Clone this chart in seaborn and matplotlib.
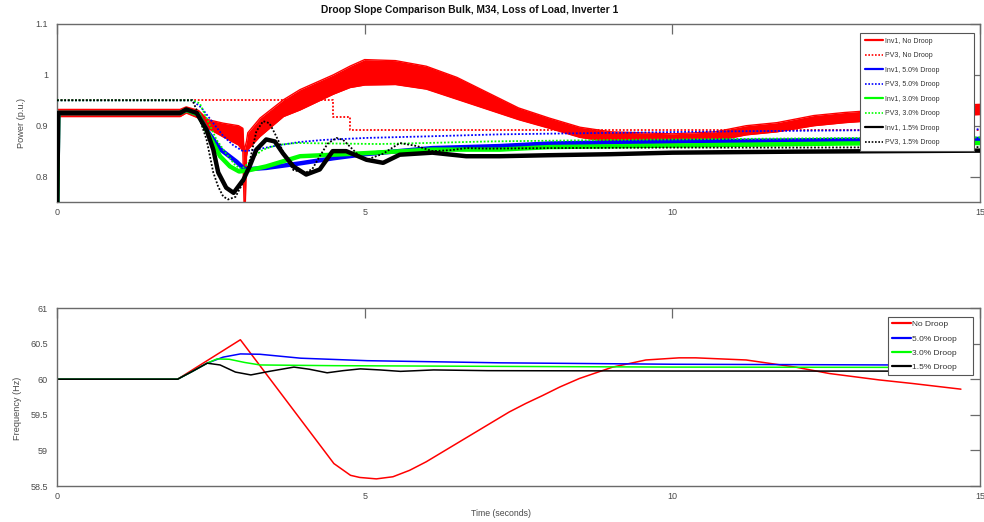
import matplotlib
matplotlib.use("Agg")
import matplotlib.pyplot as plt
from matplotlib.lines import Line2D
import seaborn as sns

# ---------------- data: top panel (Power, p.u.) ----------------
# Inv1, No Droop: noisy/oscillating band (lower / upper envelope)
t_inv1_nd = [0.0, 0.02, 2.0, 2.1, 2.3, 2.45, 2.7, 2.95, 3.02, 3.04, 3.06, 3.08, 3.1, 3.3,
             3.68, 3.95, 4.49, 4.76, 5.0, 5.5, 6.0, 6.5, 7.0, 7.5, 8.0, 8.5, 9.0, 10.0,
             10.7, 11.2, 11.7, 12.3, 12.8, 13.5, 14.2, 15.0]
lo_inv1_nd = [0.70, 0.918, 0.918, 0.925, 0.915, 0.895, 0.878, 0.862, 0.850, 0.745, 0.745, 0.840,
              0.853, 0.879, 0.918, 0.931, 0.962, 0.975, 0.980, 0.981, 0.972, 0.952, 0.932, 0.912,
              0.895, 0.877, 0.868, 0.866, 0.870, 0.882, 0.888, 0.900, 0.906, 0.912, 0.918, 0.922]
hi_inv1_nd = [0.70, 0.932, 0.932, 0.937, 0.930, 0.912, 0.905, 0.900, 0.895, 0.850, 0.860, 0.870,
              0.886, 0.915, 0.951, 0.971, 1.000, 1.017, 1.030, 1.028, 1.017, 0.995, 0.965, 0.935,
              0.915, 0.897, 0.888, 0.884, 0.888, 0.900, 0.906, 0.920, 0.926, 0.932, 0.938, 0.942]

t_pv3_nd = [0.0, 4.49, 4.49, 4.76, 4.76, 15.0]
y_pv3_nd = [0.95, 0.95, 0.918, 0.918, 0.891, 0.891]

t_inv1_5 = [0.0, 0.02, 2.0, 2.1, 2.3, 2.43, 2.65, 2.92, 3.05, 3.4, 3.95, 4.49, 5.0, 6.1, 7.2,
            8.0, 10.0, 12.8, 15.0]
y_inv1_5 = [0.70, 0.925, 0.925, 0.931, 0.922, 0.892, 0.854, 0.829, 0.814, 0.817, 0.826, 0.836,
            0.844, 0.856, 0.860, 0.865, 0.869, 0.872, 0.874]

t_pv3_5 = [0.0, 2.2, 2.35, 2.54, 2.7, 2.86, 3.02, 3.2, 3.4, 3.62, 3.95, 4.32, 5.03, 6.0, 7.19,
           9.0, 11.0, 13.04, 15.0]
y_pv3_5 = [0.95, 0.95, 0.935, 0.905, 0.880, 0.862, 0.850, 0.852, 0.857, 0.862, 0.868, 0.872,
           0.876, 0.879, 0.883, 0.886, 0.889, 0.891, 0.893]

t_inv1_3 = [0.0, 0.02, 2.0, 2.1, 2.3, 2.37, 2.48, 2.65, 2.81, 2.96, 3.1, 3.4, 3.95, 4.49, 5.0,
            6.1, 7.2, 8.0, 10.0, 12.8, 15.0]
y_inv1_3 = [0.70, 0.925, 0.925, 0.931, 0.922, 0.905, 0.879, 0.840, 0.820, 0.810, 0.812, 0.820,
            0.840, 0.843, 0.846, 0.853, 0.853, 0.858, 0.861, 0.865, 0.866]

t_pv3_3 = [0.0, 2.2, 2.32, 2.45, 2.59, 2.75, 2.9, 3.0, 3.1, 3.18, 3.35, 3.57, 3.89, 4.5, 5.24,
           6.0, 7.0, 9.0, 11.0, 13.0, 15.0]
y_pv3_3 = [0.95, 0.95, 0.944, 0.910, 0.873, 0.845, 0.822, 0.815, 0.825, 0.838, 0.853, 0.862,
           0.866, 0.865, 0.864, 0.866, 0.869, 0.872, 0.874, 0.876, 0.877]

t_inv1_15 = [0.0, 0.02, 2.0, 2.1, 2.27, 2.43, 2.54, 2.62, 2.75, 2.87, 3.03, 3.13, 3.24, 3.4,
             3.54, 3.67, 3.84, 4.05, 4.27, 4.48, 4.7, 5.03, 5.3, 5.57, 6.1, 6.65, 7.19, 8.0,
             9.0, 10.0, 12.0, 15.0]
y_inv1_15 = [0.70, 0.925, 0.925, 0.932, 0.925, 0.892, 0.853, 0.808, 0.778, 0.768, 0.794, 0.820,
             0.853, 0.873, 0.869, 0.846, 0.820, 0.804, 0.814, 0.850, 0.850, 0.833, 0.827, 0.843,
             0.847, 0.840, 0.840, 0.842, 0.844, 0.847, 0.849, 0.851]

t_pv3_15 = [0.0, 2.2, 2.27, 2.43, 2.54, 2.62, 2.7, 2.78, 2.9, 3.05, 3.15, 3.24, 3.35, 3.45, 3.51,
            3.6, 3.68, 3.84, 4.03, 4.15, 4.27, 4.4, 4.54, 4.65, 4.76, 4.9, 5.03, 5.3, 5.57, 5.85,
            6.1, 6.4, 6.65, 7.0, 8.0, 10.0, 12.0, 15.0]
y_pv3_15 = [0.95, 0.95, 0.931, 0.873, 0.808, 0.780, 0.761, 0.755, 0.760, 0.794, 0.840, 0.889,
            0.909, 0.905, 0.892, 0.870, 0.846, 0.813, 0.807, 0.815, 0.840, 0.865, 0.876, 0.872,
            0.859, 0.842, 0.833, 0.845, 0.866, 0.860, 0.850, 0.852, 0.856, 0.855, 0.856, 0.857,
            0.857, 0.858]

power_labels = ["Inv1, No Droop", "PV3, No Droop", "Inv1, 5.0% Droop", "PV3, 5.0% Droop",
                "Inv1, 3.0% Droop", "PV3, 3.0% Droop", "Inv1, 1.5% Droop", "PV3, 1.5% Droop"]

# ---------------- data: bottom panel (Frequency, Hz) ----------------
t_f_nd = [0.0, 1.96, 2.98, 4.5, 4.77, 4.92, 5.19, 5.46, 5.73, 6.0, 6.27, 6.54, 6.81, 7.08, 7.35,
          7.62, 7.89, 8.17, 8.49, 9.03, 9.57, 10.11, 10.38, 11.2, 12.0, 12.55, 13.36, 13.9, 14.69]
f_nd = [60.0, 60.0, 60.554, 58.815, 58.65, 58.62, 58.60, 58.63, 58.72, 58.84, 58.98, 59.12,
        59.26, 59.40, 59.54, 59.66, 59.77, 59.89, 60.01, 60.17, 60.27, 60.30, 60.30, 60.27,
        60.17, 60.08, 59.99, 59.94, 59.86]

t_f_5 = [0.0, 1.96, 2.2, 2.44, 2.7, 2.98, 3.3, 3.96, 5.04, 7.2, 10.0, 14.7]
f_5 = [60.0, 60.0, 60.11, 60.225, 60.31, 60.355, 60.35, 60.295, 60.26, 60.23, 60.21, 60.197]

t_f_3 = [0.0, 1.96, 2.2, 2.44, 2.6, 2.8, 3.05, 3.3, 4.5, 7.2, 10.0, 14.7]
f_3 = [60.0, 60.0, 60.11, 60.225, 60.285, 60.28, 60.235, 60.20, 60.19, 60.18, 60.17, 60.165]

t_f_15 = [0.0, 1.96, 2.2, 2.44, 2.65, 2.9, 3.15, 3.45, 3.85, 4.1, 4.39, 4.65, 4.93, 5.25, 5.58,
          6.12, 7.0, 10.0, 14.7]
f_15 = [60.0, 60.0, 60.11, 60.225, 60.20, 60.10, 60.06, 60.11, 60.17, 60.14, 60.09, 60.12,
        60.145, 60.13, 60.11, 60.13, 60.12, 60.115, 60.113]

freq_labels = ["No Droop", "5.0% Droop", "3.0% Droop", "1.5% Droop"]

x_ticks = [0, 5, 10, 15]
p_ticks = [0.8, 0.9, 1.0, 1.1]
p_ticklabels = ["0.8", "0.9", "1", "1.1"]
f_ticks = [58.5, 59.0, 59.5, 60.0, 60.5, 61.0]
f_ticklabels = ["58.5", "59", "59.5", "60", "60.5", "61"]

# ---------------- styling ----------------
sns.set_theme(style="white")
plt.rcParams["font.family"] = ["Liberation Sans", "DejaVu Sans"]

W, H = 984, 522
fig = plt.figure(figsize=(W / 100, H / 100), dpi=100)
fig.patch.set_facecolor("white")

def px_axes(x0, y0, x1, y1):
    return fig.add_axes([x0 / W, 1 - y1 / H, (x1 - x0) / W, (y1 - y0) / H])

ax1 = px_axes(57, 24, 980, 202)
ax2 = px_axes(57, 308, 980, 486)

RED, BLUE, GREEN, BLACK = "#ff0000", "#0000ff", "#00ff00", "#000000"
DOT = (0, (1, 1))
THICK = 3.2
DLW = 1.3

# top panel
ax1.fill_between(t_inv1_nd, lo_inv1_nd, hi_inv1_nd, color=RED, lw=0, zorder=2)
sns.lineplot(x=t_inv1_nd, y=lo_inv1_nd, ax=ax1, color=RED, lw=1.0, estimator=None, sort=False, zorder=2)
sns.lineplot(x=t_inv1_nd, y=hi_inv1_nd, ax=ax1, color=RED, lw=1.0, estimator=None, sort=False, zorder=2)
sns.lineplot(x=t_pv3_nd, y=y_pv3_nd, ax=ax1, color=RED, lw=DLW, linestyle=DOT, estimator=None, sort=False, zorder=3)
sns.lineplot(x=t_inv1_5, y=y_inv1_5, ax=ax1, color=BLUE, lw=THICK, estimator=None, sort=False, zorder=4)
sns.lineplot(x=t_pv3_5, y=y_pv3_5, ax=ax1, color=BLUE, lw=DLW, linestyle=DOT, estimator=None, sort=False, zorder=5)
sns.lineplot(x=t_inv1_3, y=y_inv1_3, ax=ax1, color=GREEN, lw=THICK, estimator=None, sort=False, zorder=6)
sns.lineplot(x=t_pv3_3, y=y_pv3_3, ax=ax1, color=GREEN, lw=DLW, linestyle=DOT, estimator=None, sort=False, zorder=7)
sns.lineplot(x=t_inv1_15, y=y_inv1_15, ax=ax1, color=BLACK, lw=THICK, estimator=None, sort=False, zorder=8)
sns.lineplot(x=t_pv3_15, y=y_pv3_15, ax=ax1, color=BLACK, lw=DLW, linestyle=DOT, estimator=None, sort=False, zorder=9)

# bottom panel
FLW = 1.1
sns.lineplot(x=t_f_nd, y=f_nd, ax=ax2, color=RED, lw=FLW, estimator=None, sort=False)
sns.lineplot(x=t_f_5, y=f_5, ax=ax2, color=BLUE, lw=FLW, estimator=None, sort=False)
sns.lineplot(x=t_f_3, y=f_3, ax=ax2, color=GREEN, lw=FLW, estimator=None, sort=False)
sns.lineplot(x=t_f_15, y=f_15, ax=ax2, color=BLACK, lw=FLW, estimator=None, sort=False)

SPINE = "#6a6a6a"
TXT = "#4a4a4a"
for ax in (ax1, ax2):
    ax.set_xlim(0, 15)
    ax.set_xticks(x_ticks)
    ax.set_xticklabels([str(v) for v in x_ticks])
    ax.set_xlabel("")
    ax.set_ylabel("")
    ax.set_facecolor("white")
    for s in ax.spines.values():
        s.set_color(SPINE)
        s.set_linewidth(1.0)
        s.set_visible(True)
    ax.tick_params(direction="in", length=7, width=0.9, color=SPINE, top=True, right=True,
                   labelsize=6.5, labelcolor=TXT)
    ax.tick_params(axis="y", pad=6.5)
    ax.tick_params(axis="x", pad=4.0)
    ax.grid(False)

ax1.set_ylim(0.75, 1.1)
ax1.set_yticks(p_ticks)
ax1.set_yticklabels(p_ticklabels)
ax2.set_ylim(58.5, 61)
ax2.set_yticks(f_ticks)
ax2.set_yticklabels(f_ticklabels)

# legends
styles_p = [(RED, "-"), (RED, DOT), (BLUE, "-"), (BLUE, DOT),
            (GREEN, "-"), (GREEN, DOT), (BLACK, "-"), (BLACK, DOT)]
h1 = [Line2D([], [], color=c, lw=(1.6 if ls == "-" else 1.2), linestyle=ls) for c, ls in styles_p]
leg1 = ax1.legend(h1, power_labels, loc="upper left", mode="expand",
                  bbox_to_anchor=((860 - 57) / 923, 0, 114 / 923, 1 - (33 - 24) / 178),
                  borderaxespad=0, fontsize=5, frameon=True, fancybox=False,
                  edgecolor="#555555", framealpha=1, handlelength=2.7, handletextpad=0.2,
                  labelspacing=1.08, borderpad=0.65)
leg1.get_frame().set_linewidth(0.8)
leg1.set_zorder(20)
for t in leg1.get_texts():
    t.set_color("#333333")

h2 = [Line2D([], [], color=c, lw=1.6) for c in (RED, BLUE, GREEN, BLACK)]
leg2 = ax2.legend(h2, freq_labels, loc="upper left", mode="expand",
                  bbox_to_anchor=((888 - 57) / 923, 0, 85 / 923, 1 - (317 - 308) / 178),
                  borderaxespad=0, fontsize=6, frameon=True, fancybox=False,
                  edgecolor="#555555", framealpha=1, handlelength=2.3, handletextpad=0.15,
                  labelspacing=0.78, borderpad=0.42)
leg2.get_frame().set_linewidth(0.8)
leg2.set_zorder(20)
for t in leg2.get_texts():
    t.set_color("#333333")

# titles and axis labels
fig.text(470 / W, 1 - 10 / H, "Droop Slope Comparison Bulk, M34, Loss of Load, Inverter 1",
         ha="center", va="center", fontsize=7.4, fontweight="bold", color="#111111")
fig.text(22 / W, 1 - 123 / H, "Power (p.u.)", rotation=90, ha="center", va="center",
         fontsize=6.6, color=TXT)
fig.text(17 / W, 1 - 408 / H, "Frequency (Hz)", rotation=90, ha="center", va="center",
         fontsize=6.6, color=TXT)
fig.text(501 / W, 1 - 514 / H, "Time (seconds)", ha="center", va="center",
         fontsize=6.3, color=TXT)

fig.savefig("out.png", dpi=100, facecolor="white")
